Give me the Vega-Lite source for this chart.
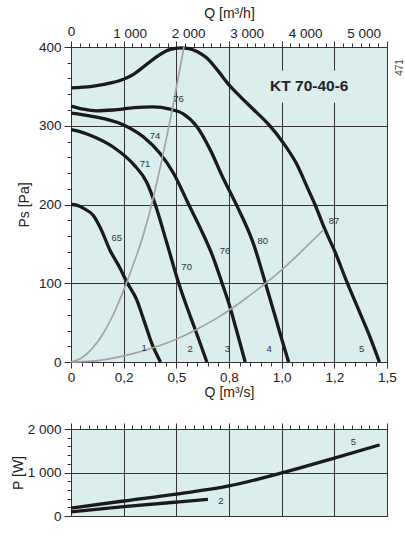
{
  "$schema": "https://vega.github.io/schema/vega-lite/v6.json",
  "background": "white",
  "padding": {"left": 10, "top": 5, "right": 0, "bottom": 0},
  "spacing": 21,
  "datasets": {
    "fan": [
      {"curve": 1, "q": 0, "ps": 200}, {"curve": 1, "q": 0.03, "ps": 199}, {"curve": 1, "q": 0.06, "ps": 195},
      {"curve": 1, "q": 0.106, "ps": 186}, {"curve": 1, "q": 0.14, "ps": 170}, {"curve": 1, "q": 0.185, "ps": 142},
      {"curve": 1, "q": 0.233, "ps": 119}, {"curve": 1, "q": 0.264, "ps": 102}, {"curve": 1, "q": 0.312, "ps": 79},
      {"curve": 1, "q": 0.351, "ps": 49}, {"curve": 1, "q": 0.383, "ps": 24}, {"curve": 1, "q": 0.425, "ps": 0},

      {"curve": 2, "q": 0, "ps": 295}, {"curve": 2, "q": 0.05, "ps": 292}, {"curve": 2, "q": 0.1, "ps": 287},
      {"curve": 2, "q": 0.2, "ps": 273}, {"curve": 2, "q": 0.3, "ps": 250}, {"curve": 2, "q": 0.36, "ps": 228},
      {"curve": 2, "q": 0.4, "ps": 200}, {"curve": 2, "q": 0.455, "ps": 151}, {"curve": 2, "q": 0.509, "ps": 102},
      {"curve": 2, "q": 0.55, "ps": 70}, {"curve": 2, "q": 0.59, "ps": 41}, {"curve": 2, "q": 0.645, "ps": 0},

      {"curve": 3, "q": 0, "ps": 316}, {"curve": 3, "q": 0.1, "ps": 312}, {"curve": 3, "q": 0.25, "ps": 301},
      {"curve": 3, "q": 0.343, "ps": 286}, {"curve": 3, "q": 0.422, "ps": 265}, {"curve": 3, "q": 0.486, "ps": 240},
      {"curve": 3, "q": 0.557, "ps": 201}, {"curve": 3, "q": 0.612, "ps": 171}, {"curve": 3, "q": 0.676, "ps": 132},
      {"curve": 3, "q": 0.716, "ps": 101}, {"curve": 3, "q": 0.751, "ps": 73}, {"curve": 3, "q": 0.786, "ps": 40},
      {"curve": 3, "q": 0.827, "ps": 0},

      {"curve": 4, "q": 0, "ps": 325}, {"curve": 4, "q": 0.06, "ps": 321}, {"curve": 4, "q": 0.12, "ps": 319},
      {"curve": 4, "q": 0.2, "ps": 320}, {"curve": 4, "q": 0.3, "ps": 323}, {"curve": 4, "q": 0.39, "ps": 324},
      {"curve": 4, "q": 0.47, "ps": 321}, {"curve": 4, "q": 0.533, "ps": 315}, {"curve": 4, "q": 0.597, "ps": 299},
      {"curve": 4, "q": 0.66, "ps": 270}, {"curve": 4, "q": 0.723, "ps": 233}, {"curve": 4, "q": 0.755, "ps": 216},
      {"curve": 4, "q": 0.79, "ps": 197}, {"curve": 4, "q": 0.865, "ps": 151}, {"curve": 4, "q": 0.921, "ps": 102},
      {"curve": 4, "q": 0.969, "ps": 58}, {"curve": 4, "q": 0.997, "ps": 32}, {"curve": 4, "q": 1.033, "ps": 0},

      {"curve": 5, "q": 0, "ps": 348}, {"curve": 5, "q": 0.1, "ps": 350}, {"curve": 5, "q": 0.2, "ps": 355},
      {"curve": 5, "q": 0.25, "ps": 359}, {"curve": 5, "q": 0.3, "ps": 366}, {"curve": 5, "q": 0.35, "ps": 376},
      {"curve": 5, "q": 0.42, "ps": 390}, {"curve": 5, "q": 0.47, "ps": 397}, {"curve": 5, "q": 0.52, "ps": 399},
      {"curve": 5, "q": 0.56, "ps": 398}, {"curve": 5, "q": 0.6, "ps": 394}, {"curve": 5, "q": 0.645, "ps": 386},
      {"curve": 5, "q": 0.7, "ps": 369}, {"curve": 5, "q": 0.75, "ps": 352}, {"curve": 5, "q": 0.8, "ps": 338},
      {"curve": 5, "q": 0.865, "ps": 321}, {"curve": 5, "q": 0.94, "ps": 301}, {"curve": 5, "q": 1.0, "ps": 281},
      {"curve": 5, "q": 1.07, "ps": 252}, {"curve": 5, "q": 1.128, "ps": 218}, {"curve": 5, "q": 1.158, "ps": 200},
      {"curve": 5, "q": 1.206, "ps": 168}, {"curve": 5, "q": 1.253, "ps": 140}, {"curve": 5, "q": 1.309, "ps": 102},
      {"curve": 5, "q": 1.372, "ps": 62}, {"curve": 5, "q": 1.419, "ps": 32}, {"curve": 5, "q": 1.464, "ps": 0}
    ],
    "system": [
      {"curve": "a", "q": 0, "ps": 0}, {"curve": "a", "q": 0.05, "ps": 5}, {"curve": "a", "q": 0.1, "ps": 17},
      {"curve": "a", "q": 0.15, "ps": 35}, {"curve": "a", "q": 0.2, "ps": 60}, {"curve": "a", "q": 0.26, "ps": 98},
      {"curve": "a", "q": 0.3, "ps": 127}, {"curve": "a", "q": 0.33, "ps": 150}, {"curve": "a", "q": 0.39, "ps": 208},
      {"curve": "a", "q": 0.43, "ps": 255}, {"curve": "a", "q": 0.486, "ps": 328}, {"curve": "a", "q": 0.536, "ps": 400},

      {"curve": "b", "q": 0, "ps": 0}, {"curve": "b", "q": 0.1, "ps": 1}, {"curve": "b", "q": 0.2, "ps": 5},
      {"curve": "b", "q": 0.3, "ps": 11}, {"curve": "b", "q": 0.4, "ps": 19}, {"curve": "b", "q": 0.5, "ps": 29},
      {"curve": "b", "q": 0.6, "ps": 42}, {"curve": "b", "q": 0.7, "ps": 57}, {"curve": "b", "q": 0.8, "ps": 75},
      {"curve": "b", "q": 0.9, "ps": 95}, {"curve": "b", "q": 1.0, "ps": 117}, {"curve": "b", "q": 1.1, "ps": 142},
      {"curve": "b", "q": 1.2, "ps": 168}
    ],
    "fanLabels": [
      {"q": 0.51, "ps": 334, "label": "76"}, {"q": 0.399, "ps": 287, "label": "74"},
      {"q": 0.351, "ps": 252, "label": "71"}, {"q": 0.217, "ps": 158, "label": "65"},
      {"q": 0.549, "ps": 121, "label": "70"}, {"q": 0.731, "ps": 141, "label": "76"},
      {"q": 0.91, "ps": 154, "label": "80"}, {"q": 1.248, "ps": 179, "label": "87"},
      {"q": 0.347, "ps": 18, "label": "1"}, {"q": 0.565, "ps": 17, "label": "2"},
      {"q": 0.742, "ps": 17, "label": "3"}, {"q": 0.941, "ps": 17, "label": "4"},
      {"q": 1.38, "ps": 17, "label": "5"}
    ],
    "model": [{"q": 1.131, "ps": 350, "label": "KT 70-40-6"}],
    "power": [
      {"curve": 2, "q": 0, "p": 95}, {"curve": 2, "q": 0.25, "p": 215}, {"curve": 2, "q": 0.5, "p": 320},
      {"curve": 2, "q": 0.65, "p": 380},
      {"curve": 5, "q": 0, "p": 180}, {"curve": 5, "q": 0.25, "p": 345}, {"curve": 5, "q": 0.5, "p": 505},
      {"curve": 5, "q": 0.75, "p": 690}, {"curve": 5, "q": 1.0, "p": 990}, {"curve": 5, "q": 1.25, "p": 1330},
      {"curve": 5, "q": 1.465, "p": 1635}
    ],
    "powerLabels": [
      {"q": 1.34, "p": 1695, "label": "5"}, {"q": 0.711, "p": 344, "label": "2"}
    ]
  },
  "vconcat": [
    {
      "width": 316,
      "height": 315,
      "layer": [
        {
          "encoding": {
            "x": {
              "field": "q", "type": "quantitative",
              "scale": {"domain": [0, 1.5], "nice": false},
              "axis": {
                "orient": "bottom", "title": "Q [m³/s]", "titlePadding": 2,
                "values": [0, 0.05, 0.1, 0.15, 0.2, 0.25, 0.3, 0.35, 0.4, 0.45, 0.5, 0.55, 0.6, 0.65, 0.7, 0.75, 0.8, 0.85, 0.9, 0.95, 1, 1.05, 1.1, 1.15, 1.2, 1.25, 1.3, 1.35, 1.4, 1.45, 1.5],
                "labelExpr": "datum.value === 0 ? '0' : datum.value === 0.25 ? '0,2' : datum.value === 0.5 ? '0,5' : datum.value === 0.75 ? '0,8' : datum.value === 1 ? '1,0' : datum.value === 1.25 ? '1,2' : datum.value === 1.5 ? '1,5' : ''",
                "labelFlush": false, "labelOverlap": false, "labelPadding": 2,
                "grid": true,
                "gridOpacity": {"condition": {"test": "indexof([0, 0.25, 0.5, 0.75, 1, 1.25, 1.5], datum.value) >= 0", "value": 1}, "value": 0},
                "tickSize": {"condition": {"test": "indexof([0, 0.25, 0.5, 0.75, 1, 1.25, 1.5], datum.value) >= 0", "value": 6}, "value": 4}
              }
            },
            "y": {
              "field": "ps", "type": "quantitative",
              "scale": {"domain": [0, 400], "nice": false},
              "axis": {
                "orient": "left", "title": "Ps [Pa]", "titlePadding": 7,
                "values": [0, 20, 40, 60, 80, 100, 120, 140, 160, 180, 200, 220, 240, 260, 280, 300, 320, 340, 360, 380, 400],
                "labelExpr": "datum.value % 100 === 0 ? format(datum.value, 'd') : ''",
                "labelOverlap": false, "labelPadding": 3, "labelFlush": false,
                "grid": true,
                "gridOpacity": {"condition": {"test": "datum.value % 100 === 0", "value": 1}, "value": 0},
                "tickSize": {"condition": {"test": "datum.value % 100 === 0", "value": 7}, "value": 4}
              }
            }
          },
          "layer": [
            {
              "data": {"name": "fan"},
              "mark": {"type": "line", "color": "#1a1a1a", "strokeWidth": 3.3, "interpolate": "monotone"},
              "encoding": {"detail": {"field": "curve"}}
            },
            {
              "data": {"name": "system"},
              "mark": {"type": "line", "color": "#a3a3a3", "strokeWidth": 1.7, "interpolate": "monotone"},
              "encoding": {"detail": {"field": "curve"}}
            },
            {
              "data": {"name": "fanLabels"},
              "mark": {"type": "text", "fontSize": 9.5, "color": "#333333", "font": "Liberation Sans"},
              "encoding": {"text": {"field": "label"}}
            },
            {
              "data": {"name": "model"},
              "mark": {"type": "rect", "width": 84, "height": 32, "color": "#d9eeed"}
            },
            {
              "data": {"name": "model"},
              "mark": {"type": "text", "fontSize": 15.5, "fontWeight": "bold", "color": "#222222", "font": "Liberation Sans"},
              "encoding": {"text": {"field": "label"}}
            }
          ]
        },
        {
          "data": {"values": [{"qh": 0, "ps": 0}, {"qh": 5400, "ps": 400}]},
          "mark": {"type": "point", "opacity": 0},
          "encoding": {
            "x": {
              "field": "qh", "type": "quantitative",
              "scale": {"domain": [0, 5400], "nice": false},
              "axis": {
                "orient": "top", "title": "Q [m³/h]", "titlePadding": 4,
                "values": [0, 150, 300, 450, 600, 750, 900, 1000, 1050, 1200, 1350, 1500, 1650, 1800, 1950, 2000, 2100, 2250, 2400, 2550, 2700, 2850, 3000, 3150, 3300, 3450, 3600, 3750, 3900, 4000, 4050, 4200, 4350, 4500, 4650, 4800, 4950, 5000, 5100, 5250, 5400],
                "labelExpr": "datum.value % 1000 === 0 ? replace(format(datum.value, ','), ',', ' ') : ''",
                "labelFlush": false, "labelOverlap": false, "labelPadding": 3,
                "grid": false,
                "tickOpacity": {"condition": {"test": "datum.value % 150 !== 0", "value": 0}, "value": 1},
                "tickSize": {"condition": {"test": "datum.value % 900 === 0", "value": 6}, "value": 4}
              }
            },
            "y": {
              "field": "ps", "type": "quantitative",
              "scale": {"domain": [0, 400], "nice": false},
              "axis": {
                "orient": "right", "title": "471", "labels": false, "ticks": false, "grid": false,
                "titleAngle": 270, "titleFontSize": 10, "titleColor": "#444444",
                "titleX": 12, "titleY": 20, "titleAlign": "center", "titleBaseline": "middle"
              }
            }
          }
        }
      ],
      "resolve": {"scale": {"x": "independent"}, "axis": {"y": "independent"}}
    },
    {
      "width": 316,
      "height": 87,
      "layer": [
        {
          "encoding": {
            "x": {
              "field": "q", "type": "quantitative",
              "scale": {"domain": [0, 1.5], "nice": false},
              "axis": {
                "orient": "bottom", "title": null, "labels": false, "ticks": false,
                "values": [0, 0.25, 0.5, 0.75, 1, 1.25, 1.5], "grid": true
              }
            },
            "y": {
              "field": "p", "type": "quantitative",
              "scale": {"domain": [0, 2000], "nice": false},
              "axis": {
                "orient": "left", "title": "P [W]", "titlePadding": 2,
                "values": [0, 200, 400, 600, 800, 1000, 1200, 1400, 1600, 1800, 2000],
                "labelExpr": "datum.value % 1000 === 0 ? replace(format(datum.value, ','), ',', ' ') : ''",
                "labelOverlap": false, "labelPadding": 3, "labelFlush": false,
                "grid": true,
                "gridOpacity": {"condition": {"test": "datum.value % 1000 === 0", "value": 1}, "value": 0},
                "tickSize": {"condition": {"test": "datum.value % 1000 === 0", "value": 7}, "value": 4}
              }
            }
          },
          "layer": [
            {
              "data": {"name": "power"},
              "mark": {"type": "line", "color": "#1a1a1a", "strokeWidth": 3.3, "interpolate": "monotone"},
              "encoding": {"detail": {"field": "curve"}}
            },
            {
              "data": {"name": "powerLabels"},
              "mark": {"type": "text", "fontSize": 9.5, "color": "#333333", "font": "Liberation Sans"},
              "encoding": {"text": {"field": "label"}}
            }
          ]
        },
        {
          "data": {"values": [{"qh": 0}, {"qh": 5400}]},
          "mark": {"type": "point", "opacity": 0},
          "encoding": {
            "x": {
              "field": "qh", "type": "quantitative",
              "scale": {"domain": [0, 5400], "nice": false},
              "axis": {
                "orient": "top", "title": null, "labels": false, "grid": false,
                "values": [0, 150, 300, 450, 600, 750, 900, 1050, 1200, 1350, 1500, 1650, 1800, 1950, 2100, 2250, 2400, 2550, 2700, 2850, 3000, 3150, 3300, 3450, 3600, 3750, 3900, 4050, 4200, 4350, 4500, 4650, 4800, 4950, 5100, 5250, 5400],
                "tickSize": {"condition": {"test": "datum.value % 900 === 0", "value": 6}, "value": 4}
              }
            }
          }
        }
      ],
      "resolve": {"scale": {"x": "independent"}}
    }
  ],
  "config": {
    "font": "Liberation Sans",
    "view": {"fill": "#d9eeed", "stroke": "#333333", "strokeWidth": 1},
    "axis": {
      "labelFont": "Liberation Sans", "labelFontSize": 13.5, "labelColor": "#222222",
      "titleFont": "Liberation Sans", "titleFontSize": 14, "titleFontWeight": "normal", "titleColor": "#222222",
      "tickColor": "#333333", "gridColor": "#333333", "gridWidth": 1, "tickWidth": 1, "domain": false
    }
  }
}
